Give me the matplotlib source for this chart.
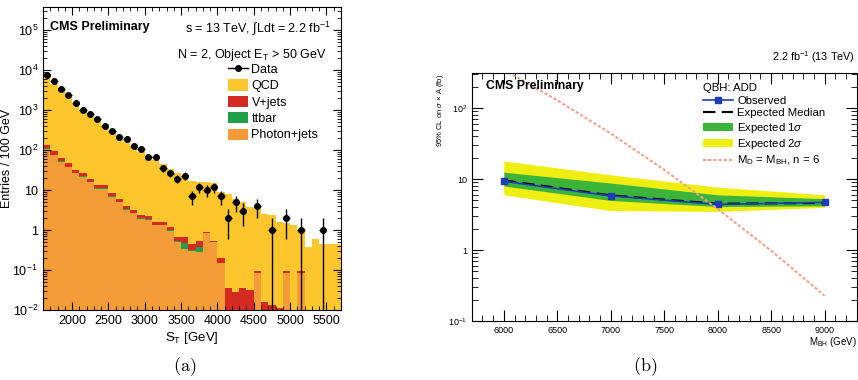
import numpy as np
import matplotlib.pyplot as plt
from matplotlib.patches import Patch
from matplotlib.lines import Line2D
from matplotlib.ticker import MultipleLocator, FixedLocator, FixedFormatter, LogLocator, NullFormatter

plt.rcParams['font.family'] = ['Liberation Sans', 'DejaVu Sans']
plt.rcParams['mathtext.fontset'] = 'custom'
plt.rcParams['mathtext.rm'] = 'Liberation Sans'
plt.rcParams['mathtext.it'] = 'Liberation Sans:italic'
plt.rcParams['mathtext.bf'] = 'Liberation Sans:bold'

# ---- (a) S_T distribution, 100 GeV bins from 1600 to 5700 GeV
st_edges = np.arange(1600, 5800, 100)
data = [7500, 5200, 3350, 2330, 1520, 1000, 790, 600, 400, 300,
        210, 185, 128, 104, 66, 68, 35, 27, 19, 23,
        7, 12, 10, 12, 7, 2, 5, 3, 0, 4,
        0, 1, 0, 2, 0, 1, 0, 0, 1, 0, 0]
qcd = [6360, 4510, 3040, 2050, 1420, 975, 700, 507, 377, 272,
       204, 156, 117, 89.6, 69.8, 54.4, 42.4, 32.8, 26.3, 21.3,
       16.6, 15.5, 15.1, 14.5, 8.8, 8.0, 6.0, 5.0, 3.8, 3.5,
       2.5, 2.3, 1.6, 1.4, 1.3, 0.9, 0.38, 0.6, 0.45, 0.45, 0.45]
vjets = [22, 15, 10, 7.5, 5.2, 4.2, 3.1, 2.1, 2.1, 1.3,
         1.0, 0.65, 0.52, 0.38, 0.35, 0.26, 0.26, 0.2, 0.15, 0.2,
         0.12, 0.16, 0.05, 0.04, 0.05, 0.035, 0.029, 0.035, 0.032, 0.01,
         0.016, 0.013, 0.011, 0.01, 0, 0.01, 0, 0, 0, 0, 0]
ttbar = [5, 3.5, 2.4, 1.8, 1.3, 1.0, 0.8, 0.5, 0.5, 0.35,
         0.25, 0.16, 0.13, 0.1, 0.09, 0.07, 0.07, 0.05, 0.03, 0.15,
         0.02, 0.1, 0, 0, 0, 0, 0, 0, 0, 0,
         0, 0, 0, 0, 0, 0, 0, 0, 0, 0, 0]
gjets = [108, 74, 50, 37, 26, 21, 15.5, 10.5, 10.5, 6.6,
         4.9, 3.2, 2.6, 1.9, 1.75, 1.3, 1.3, 0.95, 0.5, 0.33,
         0.3, 0.28, 0.85, 0.5, 0.15, 0, 0, 0, 0, 0.085,
         0, 0, 0, 0.085, 0, 0.085, 0, 0, 0, 0, 0]

# ---- (b) QBH limits
mbh = [6000, 7000, 8000, 9000]
observed = [9.3, 5.8, 4.4, 4.7]
expected = [9.6, 5.9, 4.5, 4.6]
exp1_lo = [8.0, 5.0, 4.1, 4.2]
exp1_hi = [12.5, 8.8, 6.0, 5.3]
exp2_lo = [6.0, 3.6, 3.5, 4.0]
exp2_hi = [18.0, 11.5, 7.7, 6.0]
theory_m = [6000, 6500, 7000, 7500, 8000, 8500, 9000]
theory_xs = [347, 129, 44, 13.5, 3.8, 0.98, 0.227]

c_qcd = '#FCC62C'
c_vj = '#D42A22'
c_tt = '#20A048'
c_gj = '#F39C38'

fig = plt.figure(figsize=(8.58, 3.8), dpi=100)
ax = fig.add_axes([0.0501, 0.1842, 0.3473, 0.7974])
ax2 = fig.add_axes([0.5498, 0.1553, 0.4487, 0.6518])

# stacked histograms, drawn back to front
floor = 1e-3
s1 = np.array(gjets)
s2 = s1 + np.array(ttbar)
s3 = s2 + np.array(vjets)
s4 = s3 + np.array(qcd)
for vals, col in [(s4, c_qcd), (s3, c_vj), (s2, c_tt), (s1, c_gj)]:
    ax.stairs(np.maximum(vals, floor), st_edges, baseline=floor, fill=True,
              color=col, lw=0)

centers = 0.5 * (st_edges[:-1] + st_edges[1:])
n = np.array(data, dtype=float)
m = n > 0
err = np.sqrt(n[m])
lo = np.minimum(err, n[m] - 1e-4)
ax.errorbar(centers[m], n[m], xerr=50, yerr=[lo, err], fmt='o', color='k',
            ms=4, elinewidth=1, capsize=0)

ax.set_yscale('log')
ax.set_xlim(1600, 5700)
ax.set_ylim(1e-2, 3.8e5)
ax.xaxis.set_minor_locator(MultipleLocator(100))
ax.set_xticks([2000, 2500, 3000, 3500, 4000, 4500, 5000, 5500])
ax.yaxis.set_major_locator(FixedLocator([1e-2, 1e-1, 1, 10, 1e2, 1e3, 1e4, 1e5]))
ax.yaxis.set_major_formatter(FixedFormatter([r'$10^{-2}$', r'$10^{-1}$', '1', '10',
                                             r'$10^{2}$', r'$10^{3}$', r'$10^{4}$', r'$10^{5}$']))
ax.yaxis.set_minor_locator(LogLocator(subs=np.arange(2, 10), numticks=20))
ax.yaxis.set_minor_formatter(NullFormatter())
ax.tick_params(which='both', direction='in', top=True, right=True, labelsize=9)
ax.tick_params(which='major', length=6)
ax.tick_params(which='minor', length=3)
ax.set_xlabel(r'S$_{\mathrm{T}}$ [GeV]', fontsize=9.5, labelpad=2)
ax.set_ylabel('Entries / 100 GeV', fontsize=9)
ax.yaxis.set_label_coords(-0.1, 0.5)

ax.text(0.025, 0.934, 'CMS Preliminary', transform=ax.transAxes, fontsize=9,
        fontweight='bold', va='center')
ax.text(0.475, 0.93, 's = 13 TeV, \u222bLdt = 2.2 fb$^{-1}$', transform=ax.transAxes,
        fontsize=9, va='center')
ax.text(0.45, 0.84, r'N = 2, Object E$_{\mathrm{T}}$ > 50 GeV', transform=ax.transAxes,
        fontsize=9, va='center')

handles = [Line2D([], [], color='k', marker='o', ms=4, lw=1),
           Patch(fc=c_qcd), Patch(fc=c_vj), Patch(fc=c_tt), Patch(fc=c_gj)]
labels = ['Data', 'QCD', 'V+jets', 'ttbar', 'Photon+jets']
ax.legend(handles, labels, loc='upper left', bbox_to_anchor=(0.62, 0.815),
          frameon=False, fontsize=9, borderaxespad=0, borderpad=0,
          handlelength=1.6, handleheight=1.0, handletextpad=0.3, labelspacing=0.28)

# ---- (b)
ax2.fill_between(mbh, exp2_lo, exp2_hi, color='#EEEE10', lw=0)
ax2.fill_between(mbh, exp1_lo, exp1_hi, color='#3CB43C', lw=0)
ax2.plot(mbh, expected, color='k', ls=(0, (6, 3)), lw=1.5)
ax2.plot(mbh, observed, color='#1F3CB4', lw=1.2, marker='s', ms=5)
ax2.plot(theory_m, theory_xs, color='#F2A08C', ls=(0, (1.5, 1)), lw=1.5)

ax2.set_yscale('log')
ax2.set_xlim(5700, 9300)
ax2.set_ylim(0.1, 310)
ax2.xaxis.set_major_locator(MultipleLocator(500))
ax2.xaxis.set_minor_locator(MultipleLocator(100))
ax2.yaxis.set_major_locator(FixedLocator([0.1, 1, 10, 100]))
ax2.yaxis.set_major_formatter(FixedFormatter([r'$10^{-1}$', '1', '10', r'$10^{2}$']))
ax2.yaxis.set_minor_locator(LogLocator(subs=np.arange(2, 10), numticks=20))
ax2.yaxis.set_minor_formatter(NullFormatter())
ax2.tick_params(which='both', direction='in', top=True, right=True, labelsize=6.5)
ax2.tick_params(which='major', length=8)
ax2.tick_params(which='minor', length=4)
ax2.set_xlabel(r'M$_{\mathrm{BH}}$ (GeV)', fontsize=7, loc='right', labelpad=0)
ax2.set_ylabel(r'95% CL on $\sigma$ $\times$ A (fb)', fontsize=5.5, loc='top')
ax2.yaxis.set_label_coords(-0.068, 1.0)

ax2.text(0.037, 0.95, 'CMS Preliminary', transform=ax2.transAxes, fontsize=8.8,
         fontweight='bold', va='center')
fig.text(0.997, 1 - 57 / 380, '2.2 fb$^{-1}$ (13 TeV)', fontsize=7.8, ha='right', va='center')

handles2 = [Line2D([], [], color='#1F3CB4', marker='s', ms=4, lw=1.2),
            Line2D([], [], color='k', ls=(0, (6, 3)), lw=1.5),
            Patch(fc='#3CB43C'), Patch(fc='#EEEE10'),
            Line2D([], [], color='#F2A08C', ls=(0, (1.5, 1)), lw=1.5)]
labels2 = ['Observed', 'Expected Median', r'Expected 1$\sigma$', r'Expected 2$\sigma$',
           r'M$_{\mathrm{D}}$ = M$_{\mathrm{BH}}$, n = 6']
ax2.legend(handles2, labels2, title='QBH: ADD', title_fontsize=8.2, loc='upper left',
           bbox_to_anchor=(0.601, 0.96), frameon=False, fontsize=8.2, borderaxespad=0,
           borderpad=0, handlelength=2.6, handletextpad=0.4, labelspacing=0.22,
           alignment='left')

fig.text(185 / 858, 1 - 367 / 380, r'$(\mathrm{a})$', math_fontfamily='cm', fontsize=13,
         ha='center', va='center')
fig.text(645 / 858, 1 - 367 / 380, r'$(\mathrm{b})$', math_fontfamily='cm', fontsize=13,
         ha='center', va='center')

fig.savefig('out.png', dpi=100)
